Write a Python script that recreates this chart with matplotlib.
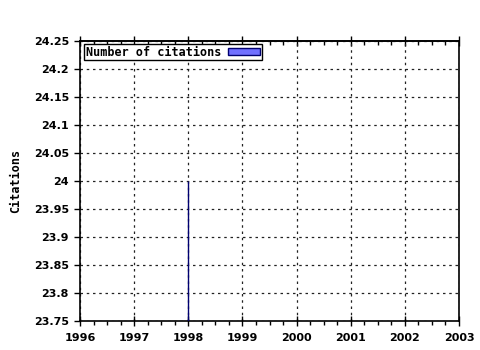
import matplotlib
matplotlib.use("Agg")
import matplotlib.pyplot as plt
from matplotlib.ticker import MultipleLocator, FuncFormatter, NullFormatter

years = [1998]
citations = [24]
series_label = "Number of citations"
y_label = "Citations"

fig = plt.figure(figsize=(4.8, 3.5), dpi=100)
ax = fig.add_axes([80/480, 1-321/350, (459-80)/480, (321-41)/350])

mono = dict(family="DejaVu Sans Mono", weight="bold")

ax.bar(years, citations, width=0.0, bottom=0, color="#7070ff",
       edgecolor="#000070", linewidth=1.0, label=series_label, zorder=3)

ax.set_xlim(1996, 2003)
ax.set_ylim(23.75, 24.25)
ax.xaxis.set_major_locator(MultipleLocator(1))
ax.xaxis.set_minor_locator(MultipleLocator(0.25))
ax.yaxis.set_major_locator(MultipleLocator(0.05))

def yfmt(v, pos):
    return f"{v:.2f}".rstrip("0").rstrip(".")
ax.yaxis.set_major_formatter(FuncFormatter(yfmt))
ax.xaxis.set_major_formatter(FuncFormatter(lambda v, p: f"{int(round(v))}"))

ax.grid(True, which="major", color="#222222", linestyle=(0, (2, 3)), linewidth=0.9)
ax.set_axisbelow(True)

ax.tick_params(axis="x", which="major", direction="inout", length=7, width=1,
               top=False, bottom=True, pad=5)
ax.tick_params(axis="x", which="minor", direction="out", length=3, width=1,
               top=False, bottom=True)
ax.tick_params(axis="y", which="major", direction="out", length=4, width=1,
               left=True, right=False, pad=4)

top = ax.secondary_xaxis("top")
top.xaxis.set_major_locator(MultipleLocator(1))
top.xaxis.set_minor_locator(MultipleLocator(0.25))
top.xaxis.set_major_formatter(NullFormatter())
top.tick_params(axis="x", which="major", direction="inout", length=7, width=1)
top.tick_params(axis="x", which="minor", direction="in", length=3, width=1)
top.spines["top"].set_linewidth(1.2)

for lbl in ax.get_xticklabels() + ax.get_yticklabels():
    lbl.set_fontfamily("DejaVu Sans")
    lbl.set_fontweight("bold")
    lbl.set_fontsize(8)

for sp in ax.spines.values():
    sp.set_linewidth(1.2)
    sp.set_color("black")

ax.set_ylabel(y_label, fontsize=8.5, labelpad=8, **mono)

leg = ax.legend(loc="upper left", bbox_to_anchor=(0.01, 0.99), markerfirst=False,
                frameon=True, fancybox=False, framealpha=1, edgecolor="black",
                prop=dict(family="DejaVu Sans Mono", weight="bold", size=8.5),
                borderpad=0.15, handlelength=2.7, handleheight=0.55, handletextpad=0.6,
                borderaxespad=0.0)
leg.get_frame().set_linewidth(1.0)

fig.savefig("out.png", dpi=100)
